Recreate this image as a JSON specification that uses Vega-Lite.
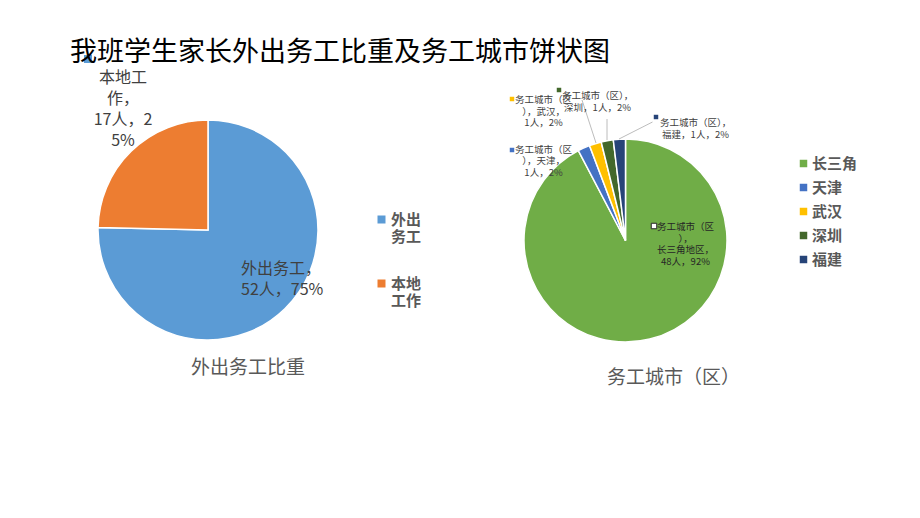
{
  "$schema": "https://vega.github.io/schema/vega-lite/v6.json",
  "width": 920,
  "height": 518,
  "autosize": {"type": "none"},
  "padding": 0,
  "background": "white",
  "config": {"view": {"stroke": null}, "font": "Noto Sans CJK SC"},
  "title": {
    "text": "我班学生家长外出务工比重及务工城市饼状图",
    "anchor": "start",
    "frame": "group",
    "orient": "top",
    "fontSize": 27,
    "fontWeight": "normal",
    "color": "#000000",
    "font": "Noto Sans CJK SC",
    "offset": 0,
    "dx": 70,
    "dy": 88,
    "baseline": "alphabetic"
  },
  "data": {
    "values": [
      {"chart": "外出务工比重", "name": "外出务工", "count": 52, "pct": "75%", "order": 1, "label": "外出务工，\n52人，75%"},
      {"chart": "外出务工比重", "name": "本地工作", "count": 17, "pct": "25%", "order": 2, "label": "本地工\n作，\n17人，2\n5%"},
      {"chart": "务工城市（区）", "name": "长三角", "count": 48, "pct": "92%", "order": 1, "label": "务工城市（区\n），\n长三角地区，\n48人，92%"},
      {"chart": "务工城市（区）", "name": "天津", "count": 1, "pct": "2%", "order": 2, "label": "务工城市（区\n），天津，\n1人，2%"},
      {"chart": "务工城市（区）", "name": "武汉", "count": 1, "pct": "2%", "order": 3, "label": "务工城市（区\n），武汉，\n1人，2%"},
      {"chart": "务工城市（区）", "name": "深圳", "count": 1, "pct": "2%", "order": 4, "label": "务工城市（区），\n深圳，1人，2%"},
      {"chart": "务工城市（区）", "name": "福建", "count": 1, "pct": "2%", "order": 5, "label": "务工城市（区），\n福建，1人，2%"}
    ]
  },
  "encoding": {
    "x": {"field": "chart", "type": "nominal", "scale": {"type": "point", "domain": ["外出务工比重", "务工城市（区）"], "range": [208, 625.5], "padding": 0}, "axis": null},
    "y": {"field": "chart", "type": "nominal", "scale": {"type": "point", "domain": ["外出务工比重", "务工城市（区）"], "range": [230, 240.5], "padding": 0}, "axis": null}
  },
  "layer": [
    {
      "transform": [{"filter": "datum.chart == '外出务工比重'"}],
      "mark": {"type": "arc", "outerRadius": 110, "stroke": "white", "strokeWidth": 1.5},
      "encoding": {
        "theta": {"field": "count", "type": "quantitative", "stack": true},
        "order": {"field": "order", "type": "quantitative"},
        "color": {
          "field": "name", "type": "nominal",
          "scale": {"domain": ["外出务工", "本地工作"], "range": ["#5B9BD5", "#ED7D31"]},
          "legend": {
            "orient": "none", "legendX": 374, "legendY": 212, "title": null, "padding": 0,
            "symbolType": "square", "symbolSize": 64, "symbolStrokeWidth": 0,
            "labelFont": "Noto Sans CJK SC", "labelFontSize": 15, "labelFontWeight": "bold", "labelColor": "#595959",
            "labelBaseline": "middle", "labelOffset": 2, "rowPadding": 31,
            "labelExpr": "datum.label == '外出务工' ? ['外出', '务工'] : ['本地', '工作']"
          }
        }
      }
    },
    {
      "transform": [{"filter": "datum.chart == '务工城市（区）'"}],
      "mark": {"type": "arc", "outerRadius": 101.5, "stroke": "white", "strokeWidth": 1.5},
      "encoding": {
        "theta": {"field": "count", "type": "quantitative", "stack": true},
        "order": {"field": "order", "type": "quantitative"},
        "color": {
          "field": "name", "type": "nominal",
          "scale": {"domain": ["长三角", "天津", "武汉", "深圳", "福建"], "range": ["#70AD47", "#4472C4", "#FFC000", "#43682B", "#264478"]},
          "legend": {
            "orient": "none", "legendX": 796, "legendY": 156, "title": null, "padding": 0,
            "symbolType": "square", "symbolSize": 56, "symbolStrokeWidth": 0,
            "labelFont": "Noto Sans CJK SC", "labelFontSize": 15, "labelFontWeight": "bold", "labelColor": "#595959",
            "labelOffset": 1, "rowPadding": 8
          }
        }
      }
    },
    {
      "transform": [{"filter": "datum.name == '外出务工'"}],
      "mark": {"type": "text", "align": "left", "baseline": "middle", "dx": 33, "dy": 39, "fontSize": 16, "lineHeight": 21, "color": "#404040", "lineBreak": "\n"},
      "encoding": {"text": {"field": "label"}}
    },
    {
      "transform": [{"filter": "datum.name == '本地工作'"}],
      "mark": {"type": "text", "align": "center", "baseline": "middle", "dx": -85, "dy": -152, "fontSize": 16, "lineHeight": 21, "color": "#404040", "lineBreak": "\n"},
      "encoding": {"text": {"field": "label"}}
    },
    {
      "transform": [{"filter": "datum.name == '本地工作'"}],
      "mark": {"type": "point", "shape": "square", "filled": true, "size": 64, "color": "#5B9BD5", "opacity": 1, "xOffset": -120, "yOffset": -171},
      "encoding": {}
    },
    {
      "transform": [{"filter": "datum.name == '长三角'"}],
      "mark": {"type": "text", "align": "center", "baseline": "middle", "dx": 60, "dy": -13.5, "fontSize": 9.5, "lineHeight": 11.7, "color": "#262626", "lineBreak": "\n"},
      "encoding": {"text": {"field": "label"}}
    },
    {
      "transform": [{"filter": "datum.name == '长三角'"}],
      "mark": {"type": "point", "shape": "square", "filled": true, "size": 30, "fill": "white", "stroke": "#262626", "strokeWidth": 1, "opacity": 1, "xOffset": 28.5, "yOffset": -14.5},
      "encoding": {}
    },
    {
      "transform": [{"filter": "datum.name == '天津'"}],
      "mark": {"type": "text", "align": "center", "baseline": "middle", "dx": -82, "dy": -91, "fontSize": 9.5, "lineHeight": 11.7, "color": "#404040", "lineBreak": "\n"},
      "encoding": {"text": {"field": "label"}}
    },
    {
      "transform": [{"filter": "datum.name == '天津'"}],
      "mark": {"type": "point", "shape": "square", "filled": true, "size": 20, "color": "#4472C4", "opacity": 1, "xOffset": -113.5, "yOffset": -90.5},
      "encoding": {}
    },
    {
      "transform": [{"filter": "datum.name == '武汉'"}],
      "mark": {"type": "text", "align": "center", "baseline": "middle", "dx": -82, "dy": -140.5, "fontSize": 9.5, "lineHeight": 11.7, "color": "#404040", "lineBreak": "\n"},
      "encoding": {"text": {"field": "label"}}
    },
    {
      "transform": [{"filter": "datum.name == '武汉'"}],
      "mark": {"type": "point", "shape": "square", "filled": true, "size": 20, "color": "#FFC000", "opacity": 1, "xOffset": -113.5, "yOffset": -141.5},
      "encoding": {}
    },
    {
      "transform": [{"filter": "datum.name == '武汉'"}],
      "mark": {"type": "rule", "color": "#A6A6A6", "strokeWidth": 0.75, "xOffset": -43.5, "yOffset": -140.5, "x2Offset": -29.5, "y2Offset": -97.5},
      "encoding": {"x2": {"field": "chart"}, "y2": {"field": "chart"}}
    },
    {
      "transform": [{"filter": "datum.name == '深圳'"}],
      "mark": {"type": "text", "align": "center", "baseline": "middle", "dx": -28, "dy": -144.5, "fontSize": 9.5, "lineHeight": 11.7, "color": "#404040", "lineBreak": "\n"},
      "encoding": {"text": {"field": "label"}}
    },
    {
      "transform": [{"filter": "datum.name == '深圳'"}],
      "mark": {"type": "point", "shape": "square", "filled": true, "size": 20, "color": "#43682B", "opacity": 1, "xOffset": -66.5, "yOffset": -150.5},
      "encoding": {}
    },
    {
      "transform": [{"filter": "datum.name == '深圳'"}],
      "mark": {"type": "rule", "color": "#A6A6A6", "strokeWidth": 0.75, "xOffset": -18.5, "yOffset": -121.5, "x2Offset": -18.5, "y2Offset": -100.5},
      "encoding": {"x2": {"field": "chart"}, "y2": {"field": "chart"}}
    },
    {
      "transform": [{"filter": "datum.name == '福建'"}],
      "mark": {"type": "text", "align": "center", "baseline": "middle", "dx": 70, "dy": -117.5, "fontSize": 9.5, "lineHeight": 11.7, "color": "#404040", "lineBreak": "\n"},
      "encoding": {"text": {"field": "label"}}
    },
    {
      "transform": [{"filter": "datum.name == '福建'"}],
      "mark": {"type": "point", "shape": "square", "filled": true, "size": 20, "color": "#264478", "opacity": 1, "xOffset": 30.5, "yOffset": -123.5},
      "encoding": {}
    },
    {
      "transform": [{"filter": "datum.name == '福建'"}],
      "mark": {"type": "rule", "color": "#A6A6A6", "strokeWidth": 0.75, "xOffset": 27, "yOffset": -118.5, "x2Offset": -6.5, "y2Offset": -101.5},
      "encoding": {"x2": {"field": "chart"}, "y2": {"field": "chart"}}
    },
    {
      "transform": [{"filter": "datum.name == '外出务工'"}],
      "mark": {"type": "text", "align": "center", "baseline": "middle", "dx": 40, "dy": 138, "fontSize": 19, "color": "#595959"},
      "encoding": {"text": {"field": "chart"}}
    },
    {
      "transform": [{"filter": "datum.name == '长三角'"}],
      "mark": {"type": "text", "align": "center", "baseline": "middle", "dx": 48, "dy": 137.5, "fontSize": 19, "color": "#595959"},
      "encoding": {"text": {"field": "chart"}}
    }
  ],
  "resolve": {"scale": {"color": "independent", "theta": "independent"}, "legend": {"color": "independent"}}
}
